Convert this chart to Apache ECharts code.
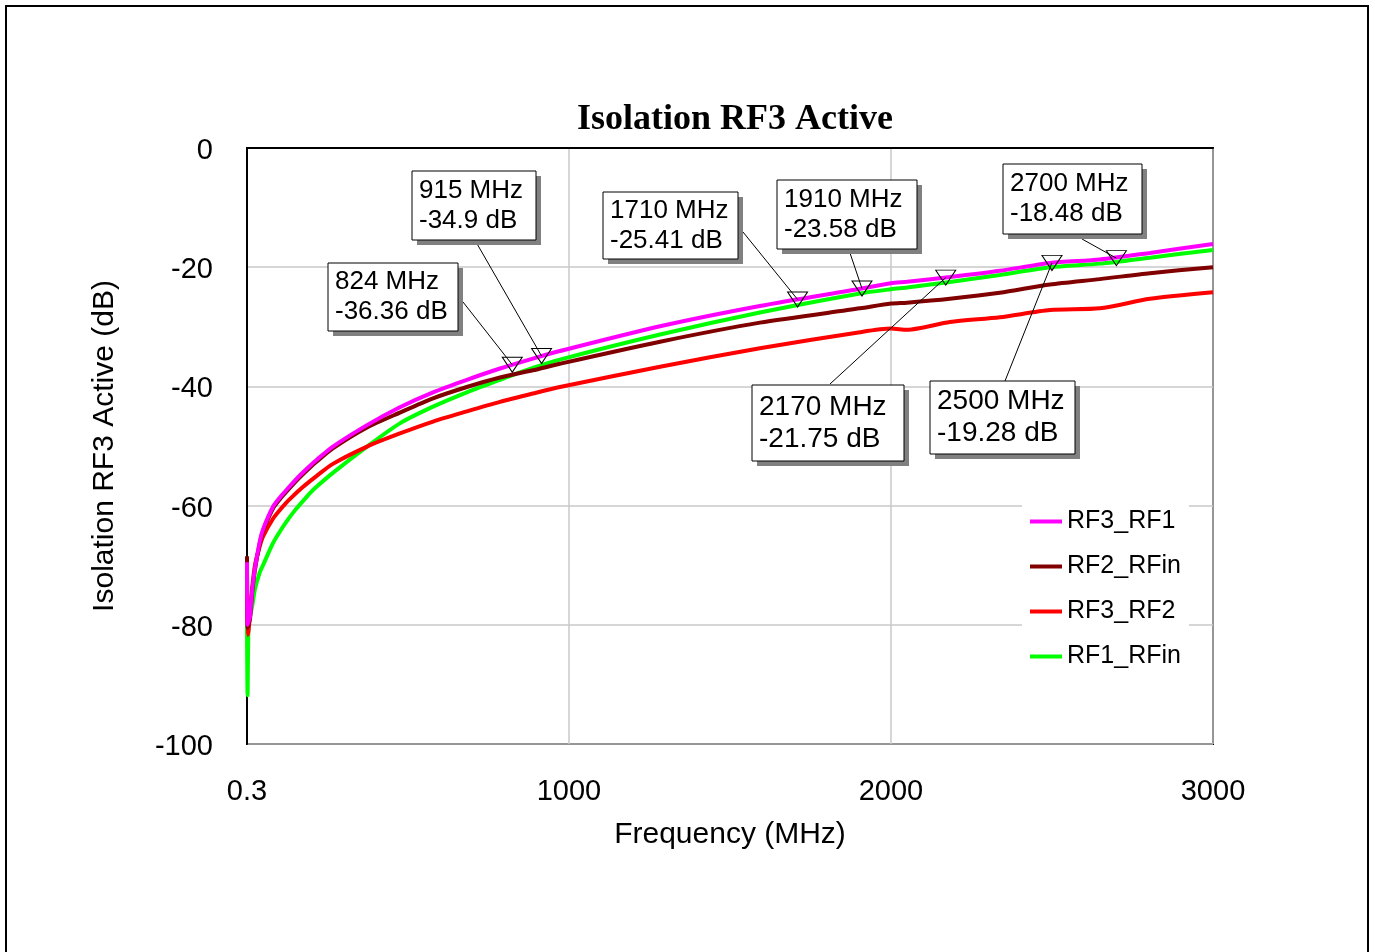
<!DOCTYPE html>
<html>
<head>
<meta charset="utf-8">
<script src="https://cdn.jsdelivr.net/npm/echarts@6/dist/echarts.min.js"></script>
<style>
  html, body { margin: 0; padding: 0; background: #fff; }
  #chart { width: 1375px; height: 952px; }
</style>
</head>
<body>
<div id="chart"></div>
<script>
// frequency points (MHz), shared by all traces
const freq = [0.3, 2, 5, 10, 16, 25, 40, 50, 81, 103, 124, 149, 165, 196, 217, 267, 373, 475, 578, 683, 786, 888, 972, 1283, 1593, 1904, 2000, 2050, 2183, 2338, 2494, 2649, 2804, 3000];

const rf3_rf1 = [-69.5, -80, -79.5, -78.5, -74.5, -70.5, -66, -64, -60.2, -58.6, -57.3, -55.8, -54.9, -53.3, -52.3, -50.1, -46.5, -43.5, -41.0, -38.9, -37.0, -35.33, -34.06, -29.9, -26.5, -23.63, -22.7, -22.45, -21.65, -20.6, -19.3, -18.7, -17.6, -16.1];
const rf2_rfin = [-68.5, -80.5, -80, -78.8, -74.8, -70.8, -66.3, -64.3, -60.5, -58.9, -57.6, -56.1, -55.2, -53.6, -52.6, -50.4, -46.9, -44.4, -42.0, -40.1, -38.5, -37.3, -36.2, -32.5, -29.3, -26.9, -26.1, -25.95, -25.3, -24.3, -22.9, -22.0, -21.0, -20.0];
const rf3_rf2 = [-75, -81.7, -81, -78, -74, -70, -66.8, -65.2, -62.2, -60.7, -59.4, -58.1, -57.3, -55.9, -55.0, -53.0, -50.1, -47.9, -45.9, -44.2, -42.6, -41.2, -40.1, -36.7, -33.6, -30.9, -30.3, -30.5, -29.2, -28.4, -27.2, -26.9, -25.3, -24.2];
const rf1_rfin = [-80, -91.8, -80, -78.5, -77, -74, -71.2, -70.0, -66.3, -64.3, -62.6, -60.8, -59.8, -57.9, -56.8, -54.5, -50.1, -46.2, -43.4, -41.0, -38.9, -36.9, -35.5, -31.3, -27.6, -24.4, -23.7, -23.4, -22.5, -21.3, -20.0, -19.4, -18.4, -17.1];

// markers
const markFreq = [824, 915, 1710, 1910, 2170, 2500, 2700];
const markDb = [-36.36, -34.9, -25.41, -23.58, -21.75, -19.28, -18.48];

const xTicks = [0.3, 1000, 2000, 3000];

// where each marker box sits, and where its leader line leaves the box
const boxLayout = [
  { x: 328, y: 263, w: 130, h: 68, fs: 26, lx: 463, ly: 302 },
  { x: 412, y: 171, w: 124, h: 69, fs: 26, lx: 476, ly: 242 },
  { x: 603, y: 192, w: 135, h: 67, fs: 26, lx: 743, ly: 232 },
  { x: 777, y: 180, w: 140, h: 69, fs: 26, lx: 850, ly: 253 },
  { x: 752, y: 385, w: 152, h: 76, fs: 28, lx: 830, ly: 384 },
  { x: 930, y: 381, w: 145, h: 73, fs: 28, lx: 1005, ly: 381 },
  { x: 1003, y: 164, w: 139, h: 70, fs: 26, lx: 1082, ly: 239 }
];

const font = 'Arial, "Liberation Sans", sans-serif';

var chart = echarts.init(document.getElementById('chart'));

function pairs(vals) {
  return freq.map((f, i) => [f, vals[i]]);
}

function trace(name, color, vals, extra) {
  return Object.assign({
    name: name,
    type: 'line',
    showSymbol: false,
    smooth: 0.25,
    data: pairs(vals),
    lineStyle: { width: 4, color: color },
    itemStyle: { color: color },
    emphasis: { disabled: true }
  }, extra || {});
}

var option = {
  animation: false,
  backgroundColor: '#fff',
  title: {
    text: 'Isolation RF3 Active',
    left: 730,
    textAlign: 'center',
    top: 97,
    textStyle: { fontFamily: '"Liberation Serif", "Times New Roman", serif', fontWeight: 'bold', fontSize: 36, color: '#000' }
  },
  legend: {
    data: ['RF3_RF1', 'RF2_RFin', 'RF3_RF2', 'RF1_RFin'],
    orient: 'vertical',
    left: 1022,
    top: 499,
    backgroundColor: '#fff',
    padding: [10, 8, 10, 8],
    itemGap: 20,
    icon: 'rect',
    itemWidth: 32,
    itemHeight: 4,
    textStyle: { fontFamily: font, fontSize: 25, color: '#000' }
  },
  grid: {
    left: 247,
    top: 148,
    width: 966,
    height: 596,
    show: true,
    borderColor: '#000',
    borderWidth: 2,
    backgroundColor: '#fff'
  },
  xAxis: {
    type: 'value',
    min: 0.3,
    max: 3000,
    name: 'Frequency (MHz)',
    nameLocation: 'middle',
    nameGap: 76,
    nameTextStyle: { fontFamily: font, fontSize: 30, color: '#000' },
    axisLine: { show: true, lineStyle: { color: '#000', width: 2 } },
    axisTick: { show: false, customValues: xTicks },
    axisLabel: {
      customValues: xTicks,
      margin: 33,
      fontFamily: font,
      fontSize: 29,
      color: '#000',
      formatter: v => String(v)
    },
    splitLine: { show: true, lineStyle: { color: '#c8c8c8', width: 1.5 } }
  },
  yAxis: {
    type: 'value',
    min: -100,
    max: 0,
    interval: 20,
    name: 'Isolation RF3 Active (dB)',
    nameLocation: 'middle',
    nameGap: 127,
    nameTextStyle: { fontFamily: font, fontSize: 30, color: '#000' },
    axisLine: { show: true, lineStyle: { color: '#000', width: 2 } },
    axisTick: { show: false },
    axisLabel: {
      margin: 34,
      formatter: v => '{a|' + v + '}',
      rich: { a: { padding: [6, 0, 0, 0], fontFamily: font, fontSize: 29, color: '#000' } }
    },
    splitLine: { show: true, lineStyle: { color: '#c8c8c8', width: 1.5 } }
  },
  series: [
    trace('RF1_RFin', '#00ff00', rf1_rfin),
    trace('RF3_RF2', '#ff0000', rf3_rf2),
    trace('RF2_RFin', '#800000', rf2_rfin),
    trace('RF3_RF1', '#ff00ff', rf3_rf1, {
      markPoint: {
        symbol: 'path://M0,0 L20,0 L10,15 Z',
        symbolSize: [20, 15],
        itemStyle: { color: 'rgba(0,0,0,0)', borderColor: '#000', borderWidth: 1 },
        label: { show: false },
        emphasis: { disabled: true },
        data: markFreq.map((f, i) => ({ coord: [f, markDb[i]] }))
      }
    })
  ]
};

chart.setOption(option);

// outer frame, marker boxes and leader lines
var graphics = [{
  type: 'rect',
  shape: { x: 6, y: 6, width: 1362, height: 1000 },
  style: { fill: 'none', stroke: '#000', lineWidth: 2 },
  silent: true
}];

markFreq.forEach(function (f, i) {
  var b = boxLayout[i];
  var p = chart.convertToPixel({ gridIndex: 0 }, [f, markDb[i]]);
  graphics.push({
    type: 'line',
    shape: { x1: b.lx, y1: b.ly, x2: p[0], y2: p[1] },
    style: { stroke: '#000', lineWidth: 1 },
    z: 100, silent: true
  });
  graphics.push({
    type: 'rect',
    shape: { x: b.x + 5, y: b.y + 5, width: b.w, height: b.h },
    style: { fill: '#808080' },
    z: 101, silent: true
  });
  graphics.push({
    type: 'rect',
    shape: { x: b.x, y: b.y, width: b.w, height: b.h },
    style: { fill: '#fff', stroke: '#000', lineWidth: 1 },
    z: 102, silent: true
  });
  graphics.push({
    type: 'text',
    x: b.x + 7,
    y: b.y + b.h / 2,
    style: {
      text: f + ' MHz\n' + markDb[i] + ' dB',
      fontFamily: font,
      fontSize: b.fs,
      lineHeight: b.fs + 4,
      fill: '#000',
      verticalAlign: 'middle',
      align: 'left'
    },
    z: 103, silent: true
  });
});

chart.setOption({ graphic: graphics });

window.addEventListener('resize', chart.resize);
</script>
</body>
</html>
